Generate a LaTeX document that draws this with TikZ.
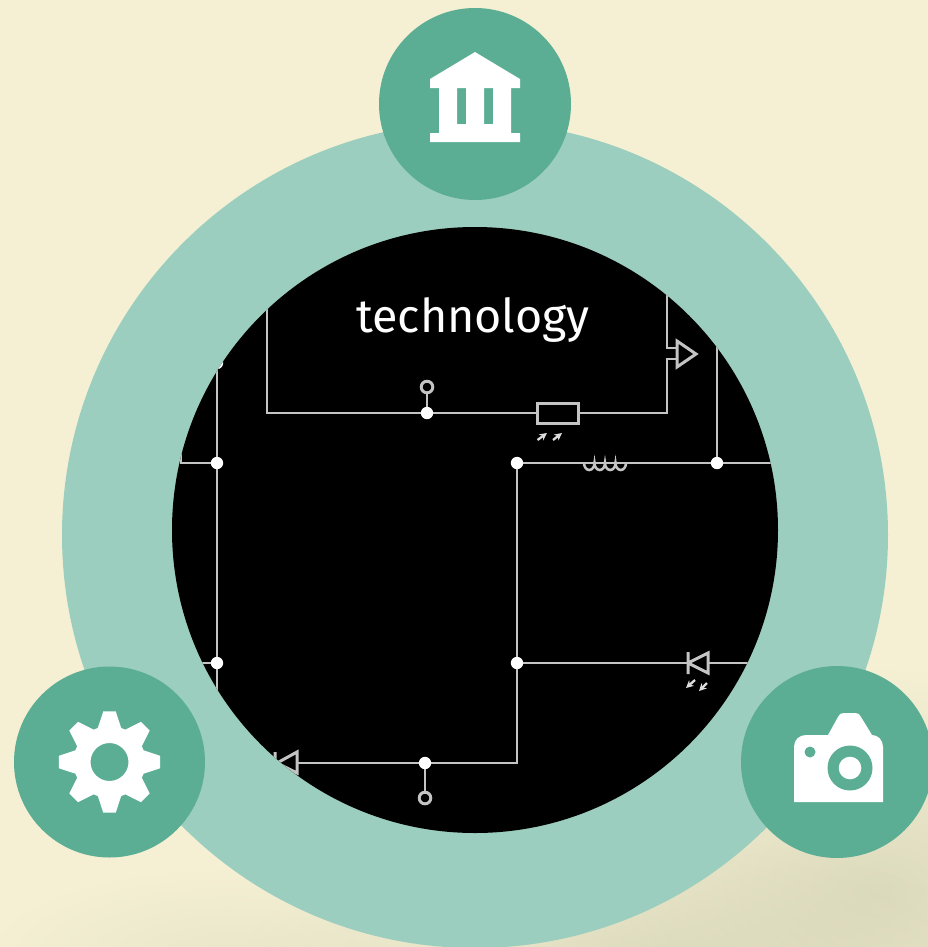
\documentclass[tikz,border=0pt]{standalone}
\usepackage{fontspec}
\setmainfont{Fira Sans}
\usetikzlibrary{fadings,arrows.meta}
\tikzfading[name=softblob,inner color=transparent!0,outer color=transparent!100]
\definecolor{bgc}{HTML}{F5F0D4}
\definecolor{ringc}{HTML}{9BCEBE}
\definecolor{tealc}{HTML}{5BAE94}
\definecolor{wirec}{HTML}{C4C4C4}
\definecolor{rayc}{HTML}{DDDDDD}
\definecolor{hazeA}{HTML}{CDCDAF}
\definecolor{hazeB}{HTML}{DEDCBE}
\tikzset{
  wire/.style={draw=wirec,line width=2.2pt,line join=miter},
  sym/.style={draw=wirec,line width=2.25pt,fill=none},
  junction/.style={fill=white,draw=none},
  hollow/.style={draw=wirec,line width=2.2pt,fill=black},
  badge/.style={fill=tealc,draw=none},
  icon/.style={fill=white,draw=none},
  ray/.style={draw=rayc,line width=1.7pt,-{Stealth[length=5.6pt,width=5.6pt]}},
  haze/.style={fill=#1,path fading=softblob,draw=none},
}
\begin{document}
\begin{tikzpicture}[x=0.75pt,y=-0.75pt]
\useasboundingbox (0,0) rectangle (928,947);
\fill[bgc] (0,0) rectangle (928,947);
% background haze
\begin{scope}
\clip (0,0) rectangle (928,947);
\fill[haze=hazeA,opacity=.6] (880,890) ellipse (340 and 220);
\fill[haze=hazeA,opacity=.55] (620,965) ellipse (380 and 130);
\fill[haze=hazeB,opacity=.5] (230,960) ellipse (240 and 90);
\end{scope}
% ring and disc
\fill[ringc] (475,535) circle (413);
\fill[black] (475,530) circle (303);
\begin{scope}
\clip (475,530) circle (303);
\coordinate (tlA) at (267,280); \coordinate (tlB) at (267,413);
\coordinate (j1) at (427,413); \coordinate (o1) at (427,387);
\coordinate (rL) at (537,413); \coordinate (rR) at (578,413);
\coordinate (gC) at (667,413); \coordinate (gA) at (667,359); \coordinate (gB) at (667,348);
\coordinate (gT) at (667,280);
\coordinate (gA2) at (677,359); \coordinate (gB2) at (677,348);
\coordinate (j2) at (517,463); \coordinate (j3) at (717,463);
\coordinate (j3t) at (717,280); \coordinate (rE) at (790,463);
\coordinate (lL) at (584,463);
\coordinate (j4) at (517,663); \coordinate (cr) at (517,763);
\coordinate (j5) at (425,763); \coordinate (o2) at (425,798);
\coordinate (dL) at (297,763);
\coordinate (d2a) at (688,663); \coordinate (d2b) at (708,663); \coordinate (d2e) at (790,663);
\coordinate (j6) at (217,463); \coordinate (j7) at (217,663);
\coordinate (lT) at (217,350); \coordinate (lB) at (217,700);
\coordinate (l1) at (181,463); \coordinate (l1t) at (181,440);
\coordinate (l2) at (190,663);
\coordinate (j8) at (217,363);
% wires
\draw[wire] (tlA) -- (tlB) -- (j1) -- (rL);
\draw[wire] (rR) -- (gC) -- (gA) -- (gA2);
\draw[wire] (gT) -- (gB) -- (gB2);
\draw[wire] (j1) -- (o1);
\draw[wire] (j2) -- (rE);
\draw[wire] (j3t) -- (j3);
\draw[wire] (j2) -- (j4) -- (cr) -- (j5) -- (dL);
\draw[wire] (j5) -- (o2);
\draw[wire] (j4) -- (d2a);
\draw[wire] (d2b) -- (d2e);
\draw[wire] (lT) -- (lB);
\draw[wire] (l1t) -- (l1) -- (j6);
\draw[wire] (l2) -- (j7);
% symbols
\draw[sym] (537,403) rectangle (578,423);
\draw[sym,line join=miter] (677,341) -- (696,354) -- (677,367) -- cycle;
\draw[sym,line join=miter] (688,652) -- (688,674) (688,663) -- (708,653) -- (708,673) -- cycle;
\draw[sym,line join=miter] (275,752) -- (275,774) (277,763) -- (297,752) -- (297,773) -- cycle;
\draw[sym,line width=1.9pt] (lL) arc (180:0:5.25 and 7) arc (180:0:5.25 and 7) arc (180:0:5.25 and 7) arc (180:0:5.25 and 7);
\draw[ray] (537.5,440) -- (547,433);
\draw[ray] (553,440) -- (562,433);
\draw[ray] (695,680) -- (686,688);
\draw[ray] (707,683) -- (699,691);
\draw[hollow] (o1) circle (5.8);
\draw[hollow] (o2) circle (5.8);
\foreach \c in {j1,j2,j3,j4,j5,j6,j7,j8} \fill[junction] (\c) circle (6.2);
\end{scope}
\node[text=white,font=\fontsize{35pt}{40pt}\selectfont,inner sep=0pt] (title) at (473,320) {technology};
% badges
\fill[badge] (475,104) circle (96);
\fill[badge] (109.5,762) circle (95.5);
\fill[badge] (837,762) circle (96);
% bank
\fill[icon,even odd rule]
  (475,52) -- (520,79) -- (520,88) -- (511,88) -- (511,133) -- (520,133) -- (520,142) -- (430,142) -- (430,133) -- (439,133) -- (439,88) -- (430,88) -- (430,79) -- cycle
  (457,88) rectangle (466,124)
  (484,88) rectangle (493,124);
% gear
\begin{scope}[shift={(109.5,762)}]
\fill[icon,even odd rule] (83:51)
  \foreach \a in {0,45,...,315} { -- (\a+90-7:51) -- (\a+90+7:51) -- (\a+90+19:36) -- (\a+90+26:36) }
  -- cycle (0,0) circle (19);
\end{scope}
% camera
\fill[icon] (794,802) -- (794,747) .. controls (794,740) and (799,735) .. (806,735) -- (828,735) -- (838,717) .. controls (839,714) and (841,713) .. (844,713) -- (855,713) .. controls (858,713) and (860,714) .. (861,717) -- (872,735) .. controls (878,735) and (883,740) .. (883,747) -- (883,802) -- cycle;
\fill[tealc] (850,768) circle (22.5);
\fill[icon] (850,768) circle (11.3);
\fill[tealc] (810,752) circle (5.5);
\end{tikzpicture}
\end{document}
